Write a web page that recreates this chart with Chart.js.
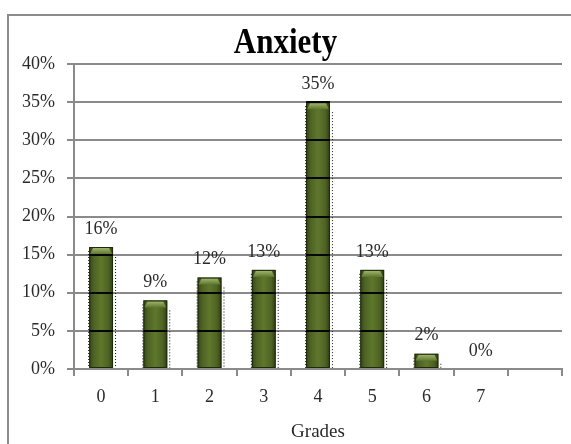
<!DOCTYPE html>
<html>
<head>
<meta charset="utf-8">
<script src="https://cdn.jsdelivr.net/npm/chart.js@4/dist/chart.umd.min.js"></script>
<style>
  html, body { margin: 0; padding: 0; background: #fff; }
  #wrap { width: 571px; height: 444px; position: relative; }
</style>
</head>
<body>
<div id="wrap"><canvas id="c" width="571" height="444"></canvas></div>
<script>
// Share of students per anxiety grade (percent)
const grades = ['0', '1', '2', '3', '4', '5', '6', '7', ''];
const shares = [16, 9, 12, 13, 35, 13, 2, 0, null];
const shareLabels = ['16%', '9%', '12%', '13%', '35%', '13%', '2%', '0%', ''];
const yTicks = [0, 5, 10, 15, 20, 25, 30, 35, 40];
const chartTitle = 'Anxiety';

const SERIF = '"Liberation Serif", "DejaVu Serif", serif';
const GRID = '#8a8a8a';
const TEXT = '#2a2a2a';

// Outer frame and the tall bold title
const framePlugin = {
  id: 'frame',
  beforeDraw(chart) {
    const ctx = chart.ctx;
    ctx.save();
    ctx.fillStyle = '#fff';
    ctx.fillRect(0, 0, chart.width, chart.height);
    ctx.strokeStyle = '#8c8c8c';
    ctx.lineWidth = 2;
    ctx.strokeRect(8, 15, chart.width + 20, chart.height + 20);

    ctx.translate(chart.width / 2, 53);
    ctx.scale(1, 1.15);
    ctx.fillStyle = '#000';
    ctx.font = 'bold 31px ' + SERIF;
    ctx.textAlign = 'center';
    ctx.textBaseline = 'alphabetic';
    ctx.fillText(chartTitle, 0, 0);
    ctx.restore();
  }
};

// Shaded bars: dark edges, lighter middle, glossy cap, dotted side lines
const barStylePlugin = {
  id: 'barStyle',
  afterDatasetsDraw(chart) {
    const ctx = chart.ctx;
    const meta = chart.getDatasetMeta(0);
    const y = chart.scales.y;
    ctx.save();
    meta.data.forEach((bar, i) => {
      const v = shares[i];
      if (v === null || v <= 0) return;
      const props = bar.getProps(['x', 'y', 'base', 'width'], true);
      const left = props.x - props.width / 2;
      const right = props.x + props.width / 2;
      const top = props.y;
      const bottom = props.base;

      const g = ctx.createLinearGradient(left, 0, right, 0);
      g.addColorStop(0, '#33431a');
      g.addColorStop(0.18, '#4d6222');
      g.addColorStop(0.5, '#5f772c');
      g.addColorStop(0.82, '#4d6222');
      g.addColorStop(1, '#2e3c15');
      ctx.fillStyle = g;
      ctx.fillRect(left, top, right - left, bottom - top);

      // glossy top cap
      const capH = Math.min(7, bottom - top);
      const cg = ctx.createLinearGradient(0, top, 0, top + capH);
      cg.addColorStop(0, '#a8bf78');
      cg.addColorStop(1, '#5f772c');
      ctx.fillStyle = cg;
      ctx.beginPath();
      ctx.moveTo(left + 1, top + capH);
      ctx.lineTo(left + 4, top + 1);
      ctx.lineTo(right - 4, top + 1);
      ctx.lineTo(right - 1, top + capH);
      ctx.closePath();
      ctx.fill();
      ctx.strokeStyle = '#1f2a0c';
      ctx.lineWidth = 1;
      ctx.strokeRect(left + 0.5, top + 0.5, right - left - 1, bottom - top - 1);

      // dark grid segments across the bar
      ctx.strokeStyle = '#050505';
      ctx.lineWidth = 2;
      yTicks.forEach(t => {
        if (t > 0 && t <= v) {
          const py = Math.round(y.getPixelForValue(t));
          ctx.beginPath();
          ctx.moveTo(left, py);
          ctx.lineTo(right, py);
          ctx.stroke();
        }
      });

      // dotted side lines
      ctx.strokeStyle = '#111';
      ctx.lineWidth = 1;
      ctx.setLineDash([1, 2]);
      ctx.beginPath();
      ctx.moveTo(left - 0.5, top + 4);
      ctx.lineTo(left - 0.5, bottom);
      ctx.moveTo(right + 2.5, top + 10);
      ctx.lineTo(right + 2.5, bottom);
      ctx.stroke();
      ctx.setLineDash([]);
    });

    // value labels above the bars
    ctx.fillStyle = TEXT;
    ctx.font = '18px ' + SERIF;
    ctx.textAlign = 'center';
    ctx.textBaseline = 'middle';
    meta.data.forEach((bar, i) => {
      if (shares[i] === null) return;
      ctx.fillText(shareLabels[i], bar.x, bar.y - 18);
    });
    ctx.restore();
  }
};

new Chart(document.getElementById('c'), {
  type: 'bar',
  data: {
    labels: grades,
    datasets: [{
      data: shares,
      backgroundColor: 'rgba(0,0,0,0)',
      borderWidth: 0,
      categoryPercentage: 1,
      barPercentage: 0.44
    }]
  },
  options: {
    responsive: false,
    animation: false,
    events: [],
    layout: { padding: { top: 64, left: 8, right: 9, bottom: 0 } },
    plugins: {
      legend: { display: false },
      tooltip: { enabled: false },
      title: { display: false }
    },
    scales: {
      x: {
        grid: {
          display: true,
          drawOnChartArea: false,
          drawTicks: true,
          tickLength: 7,
          color: GRID,
          lineWidth: 2,
          offset: true
        },
        border: { display: true, color: GRID, width: 2 },
        ticks: {
          color: TEXT,
          font: { family: SERIF, size: 18 },
          padding: 10,
          maxRotation: 0
        },
        title: {
          display: true,
          text: 'Grades',
          color: TEXT,
          font: { family: SERIF, size: 19 },
          padding: { top: 4, bottom: 1 }
        },
        afterFit(scale) { scale.height = 75; }
      },
      y: {
        min: 0,
        max: 40,
        afterBuildTicks(scale) { scale.ticks = yTicks.map(v => ({ value: v })); },
        grid: {
          color: GRID,
          lineWidth: 2,
          tickLength: 7,
          drawTicks: true
        },
        border: { display: true, color: GRID, width: 2 },
        ticks: {
          color: TEXT,
          font: { family: SERIF, size: 18 },
          padding: 12,
          callback: v => v + '%'
        },
        afterFit(scale) { scale.width = 66; }
      }
    }
  },
  plugins: [framePlugin, barStylePlugin]
});
</script>
</body>
</html>
